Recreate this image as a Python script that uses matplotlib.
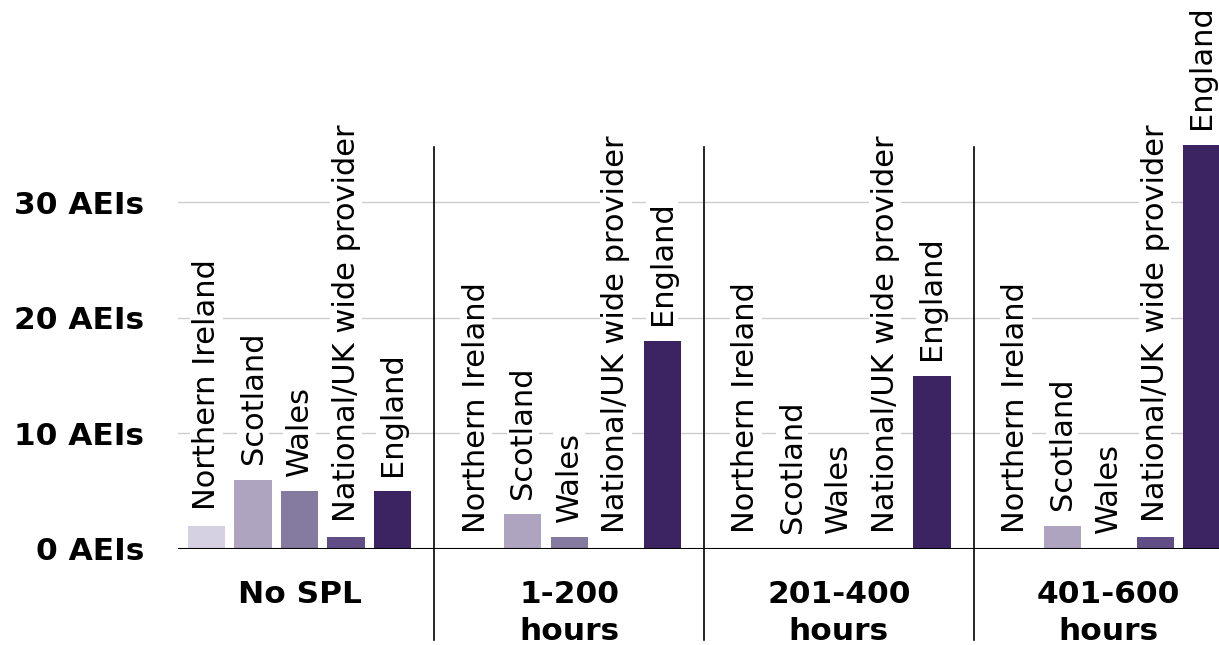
import matplotlib
matplotlib.use("Agg")
import matplotlib.pyplot as plt

groups = ["No SPL", "1-200\nhours", "201-400\nhours", "401-600\nhours"]
regions = ["Northern Ireland", "Scotland", "Wales", "National/UK wide provider", "England"]
northern_ireland = [2, 0, 0, 0]
scotland = [6, 3, 0, 2]
wales = [5, 1, 0, 0]
national = [1, 0, 0, 1]
england = [5, 18, 15, 35]
yticks = [0, 10, 20, 30]
ytick_labels = ["0 AEIs", "10 AEIs", "20 AEIs", "30 AEIs"]

series = [northern_ireland, scotland, wales, national, england]
colors = ["#d6d1e2", "#aea4c0", "#857a9f", "#614e87", "#3c2463"]

plt.rcParams["font.family"] = ["DejaVu Sans"]

fig = plt.figure(figsize=(12.19, 6.45), dpi=100)
ax = fig.add_axes([178 / 1219, 96 / 645, 1041 / 1219, 549 / 645])

group_gap = 5.8
for i, (vals, name, col) in enumerate(zip(series, regions, colors)):
    xs = [g * group_gap + i for g in range(len(groups))]
    ax.bar(xs, vals, width=0.8, color=col, zorder=2)
    for x, v in zip(xs, vals):
        ax.text(x, v + 1.35, name, rotation=90, rotation_mode="anchor",
                ha="left", va="center", fontsize=22, color="black", zorder=4,
                bbox=dict(facecolor="white", edgecolor="none", pad=1))

ax.set_xlim(-0.613, 21.774)
ax.set_ylim(0, 47.53)

# light gridlines, black baseline
for y in yticks[1:]:
    ax.axhline(y, color="#cccccc", lw=1, zorder=0)
ax.axhline(0, color="black", lw=1.5, zorder=3)

ax.set_yticks(yticks)
ax.set_yticklabels(ytick_labels, fontsize=22.5, fontweight="bold")
ax.tick_params(axis="y", length=0, pad=24.5)
ax.set_xticks([])
for s in ax.spines.values():
    s.set_visible(False)

# group separators and group names
for g in range(len(groups)):
    if g > 0:
        sx = g * group_gap - 0.9
        ax.plot([sx, sx], [34.8, -7.9], color="black", lw=1.2, clip_on=False, zorder=3)
    cx = g * group_gap + 2
    for k, line in enumerate(groups[g].split("\n")):
        ax.text(cx, -4.675 - 3.2 * k, line, ha="center", va="baseline",
                fontsize=22.5, fontweight="bold", clip_on=False)

fig.savefig("out.png", dpi=100)
